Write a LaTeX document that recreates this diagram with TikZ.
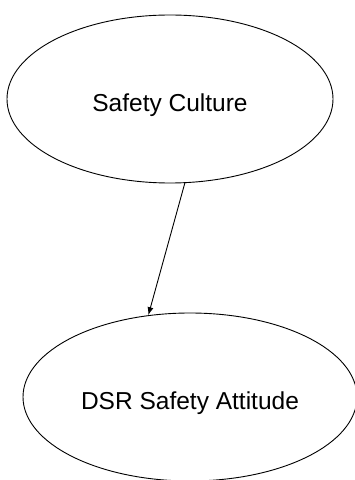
\documentclass[tikz,border=0pt]{standalone}
\usepackage{fontspec}
\setmainfont{Liberation Sans}
\usetikzlibrary{shapes.geometric,arrows.meta}
\begin{document}
\begin{tikzpicture}[x=1pt,y=1pt,
  bubble/.style={draw, ellipse, line width=0.9pt, inner sep=0pt,
    text height=25pt, text depth=0pt,
    font=\fontsize{24.5}{28}\selectfont},
  link/.style={line width=0.9pt, -{Latex[length=8pt,width=6pt]}}]
\useasboundingbox (0,0) rectangle (354,480);
\node[bubble, minimum width=326pt, minimum height=168pt] (sc) at (170,381) {Safety Culture};
\node[bubble, minimum width=334pt, minimum height=168pt] (dsr) at (190,83) {DSR Safety Attitude};
\draw[link] (sc.-80.4) -- (dsr.117.4);
\end{tikzpicture}
\end{document}
